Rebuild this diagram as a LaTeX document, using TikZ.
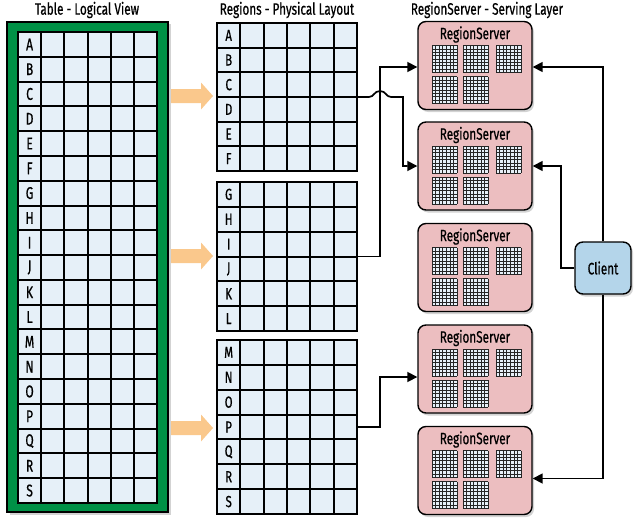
\documentclass[tikz,border=0pt]{standalone}
\usepackage{fontspec}
\setmainfont{Fira Sans}[FakeStretch=0.71,FakeBold=0.6]
\usetikzlibrary{shadows,arrows.meta}
\definecolor{gridfill}{RGB}{230,240,248}
\definecolor{framegreen}{RGB}{0,145,70}
\definecolor{rspink}{RGB}{236,190,192}
\definecolor{clientblue}{RGB}{180,213,234}
\definecolor{flow}{RGB}{250,200,140}
\newcommand\mgrid[2]{%
  \fill[gridfill] (#1,#2) rectangle ++(25,27);
  \foreach \i in {0,...,7} \draw[mgline] ({#1+\i*25/7},#2) -- ++(0,27);
  \foreach \j in {0,...,8} \draw[mgline] (#1,{#2+\j*27/8}) -- ++(25,0);
}
\newcommand\rsgrids[2]{% top-left of box
  \mgrid{#1+14}{#2+24}\mgrid{#1+45}{#2+24}\mgrid{#1+78}{#2+24}
  \mgrid{#1+14}{#2+55}\mgrid{#1+45}{#2+55}
}
\newcommand\midblock[4]{% y0, y1, nrows, letters
  \fill[gridfill] (217,#1) rectangle (357,#2);
  \foreach \c in {0,...,6} \draw[gline] ({round(217+\c*140/6)},#1) -- ({round(217+\c*140/6)},#2);
  \foreach \r in {0,...,#3} \draw[gline] (217,{round(#1+\r*(#2-#1)/#3)}) -- (357,{round(#1+\r*(#2-#1)/#3)});
  \foreach \l [count=\k from 0] in {#4}
    \node[midlabel] (M-\l) at ({217+140/12},{#1+(\k+0.5)*(#2-#1)/#3}) {\l};
}
\begin{document}
\begin{tikzpicture}[x=1pt,y=-1pt,
  titletext/.style={font=\fontsize{16.5}{16}\selectfont, inner sep=0pt},
  gline/.style={line width=1.9pt, draw=black, line cap=rect},
  mgline/.style={line width=0.55pt, draw=black!85},
  biglabel/.style={font=\fontsize{17}{17}\selectfont, inner sep=0pt},
  midlabel/.style={font=\fontsize{16}{16}\selectfont, inner sep=0pt},
  rsbox/.style={draw=black, line width=1.4pt, fill=rspink, rounded corners=8pt,
    minimum width=114pt, minimum height=88pt, inner sep=0pt,
    drop shadow={opacity=0.35, shadow xshift=2pt, shadow yshift=-2.5pt}},
  rstitle/.style={font=\fontsize{16.5}{16}\selectfont, inner sep=0pt},
  clientbox/.style={draw=black, line width=1.4pt, fill=clientblue, rounded corners=8pt,
    minimum width=56pt, minimum height=52pt, inner sep=0pt,
    font=\fontsize{16.5}{16}\selectfont,
    drop shadow={opacity=0.35, shadow xshift=2pt, shadow yshift=-2.5pt}},
  conn/.style={line width=1.7pt, -{Triangle[length=10pt,width=10pt]}},
]
\useasboundingbox (0,0) rectangle (644,527);

% titles
\node[titletext] (t1) at (87,10) {Table - Logical View};
\node[titletext] (t2) at (287,10) {Regions - Physical Layout};
\node[titletext] (t3) at (487,10) {RegionServer - Serving Layer};

% left table
\draw[fill=framegreen, line width=1.6pt,
  drop shadow={opacity=0.35, shadow xshift=2.5pt, shadow yshift=-2.5pt}] (7,22) rectangle (168,512);
\fill[gridfill] (18,32) rectangle (157,503);
\foreach \c in {0,...,6} \draw[gline] ({round(18+\c*139/6)},32) -- ({round(18+\c*139/6)},503);
\foreach \r in {0,...,19} \draw[gline] (18,{round(32+\r*471/19)}) -- (157,{round(32+\r*471/19)});
\foreach \l [count=\k from 0] in {A,B,C,D,E,F,G,H,I,J,K,L,M,N,O,P,Q,R,S}
  \node[biglabel] (L-\l) at ({18+139/12},{32+(\k+0.5)*471/19}) {\l};

% middle blocks
\midblock{23}{171}{6}{A,B,C,D,E,F}
\midblock{182}{331}{6}{G,H,I,J,K,L}
\midblock{340}{514}{7}{M,N,O,P,Q,R,S}

% orange arrows
\foreach \y in {96,256,428}
  \fill[flow] (171,\y-7) -- (201,\y-7) -- (201,\y-13.5) -- (213,\y) -- (201,\y+13.5) -- (201,\y+7) -- (171,\y+7) -- cycle;

% region servers
\foreach \n/\yc in {1/65.5,2/166,3/267.5,4/369,5/470.5}{
  \node[rsbox] (rs\n) at (475,\yc) {};
  \node[rstitle] (rs\n-t) at (475,\yc-31) {RegionServer};
  \rsgrids{418}{\yc-44}
}

% client
\node[clientbox] (client) at (603,268) {Client};

% exit points
\coordinate (rD) at (357,97);
\coordinate (rI) at (357,256.5);
\coordinate (rP) at (357,427);

% connectors
\draw[conn] (rD) -- (369,97) .. controls (374,97) and (374,91) .. (380,91)
  .. controls (386,91) and (386,97) .. (391,97) -- (403,97) |- (rs2.west);
\draw[conn] (rI) -- (380,256.5) |- ([yshift=-1.5pt]rs1.west);
\draw[conn] (rP) -- (380,427) |- ([yshift=-8pt]rs4.west);
\draw[conn] (client.north) |- ([yshift=-1.5pt]rs1.east);
\draw[conn] (client.west) -- (561,268) |- (rs2.east);
\draw[conn] (client.south) |- ([yshift=-8pt]rs5.east);
\end{tikzpicture}
\end{document}
